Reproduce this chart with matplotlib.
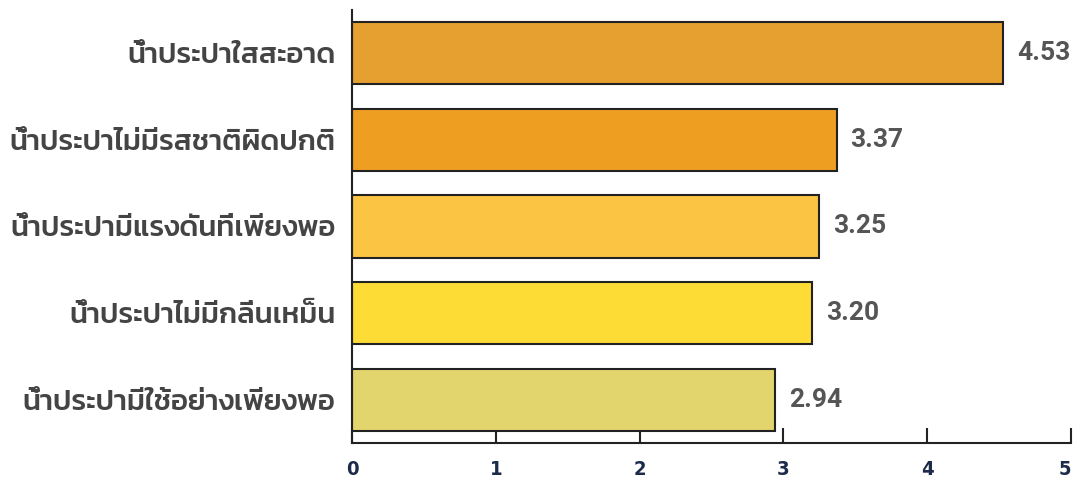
import matplotlib
matplotlib.use("Agg")
import matplotlib.pyplot as plt

categories = [
    "น้ำประปาใสสะอาด",
    "น้ำประปาไม่มีรสชาติผิดปกติ",
    "น้ำประปามีแรงดันที่เพียงพอ",
    "น้ำประปาไม่มีกลิ่นเหม็น",
    "น้ำประปามีใช้อย่างเพียงพอ",
]
values = [4.53, 3.37, 3.25, 3.20, 2.94]
value_labels = ["4.53", "3.37", "3.25", "3.20", "2.94"]
bar_colors = ["#E5A030", "#EE9F22", "#FCC443", "#FEDC36", "#E2D56E"]
x_ticks = [0, 1, 2, 3, 4, 5]

thai_family = ["Kanit", "Noto Sans Thai", "DejaVu Sans"]

fig = plt.figure(figsize=(10.75, 4.79), dpi=100)
ax = fig.add_axes([0.3274, 0.0752, 0.6689, 0.9039])

ypos = list(range(len(categories)))
ax.barh(ypos, values, height=0.72, color=bar_colors, edgecolor="#222222", linewidth=1.5, zorder=2)

for y, v, lab in zip(ypos, values, value_labels):
    ax.annotate(lab, xy=(v, y), xytext=(14, 0), textcoords="offset pixels",
                ha="left", va="center", fontsize=19, fontweight="bold",
                color="#555555", family=["Roboto", "DejaVu Sans"])

ax.set_xlim(0, 5)
ax.set_ylim(4.5, -0.5)
ax.set_yticks(ypos)
ax.set_yticklabels(categories, family=thai_family, fontsize=21, fontweight="medium", color="#444444")
ax.tick_params(axis="y", length=0, pad=12)

ax.set_xticks(x_ticks)
ax.set_xticklabels([str(t) for t in x_ticks], family=["DejaVu Sans"], fontstretch="condensed",
                   fontsize=14.5, fontweight="bold", color="#1C2B4A")
ax.tick_params(axis="x", direction="in", length=11, width=1.5, pad=12, color="#222222")
ax.get_xticklabels()[-1].set_horizontalalignment("right")

for s in ["top", "right"]:
    ax.spines[s].set_visible(False)
for s in ["left", "bottom"]:
    ax.spines[s].set_linewidth(1.5)
    ax.spines[s].set_color("#222222")

fig.savefig("out.png", dpi=100)
